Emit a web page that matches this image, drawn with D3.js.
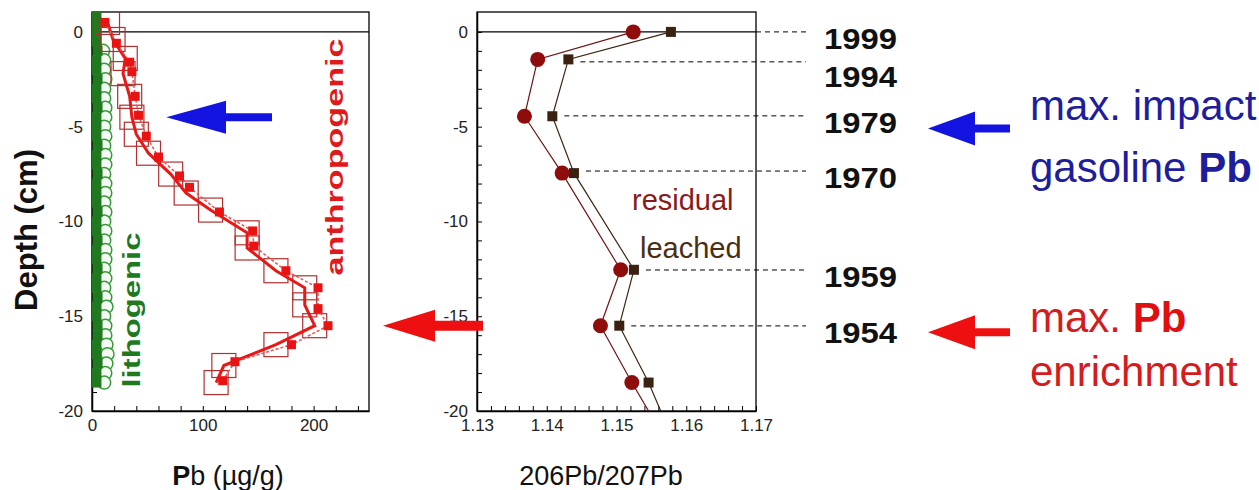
<!DOCTYPE html>
<html>
<head>
  <meta charset="utf-8">
  <style type="text/css">
    body { margin: 0; background: #fff; }
    svg text { font-family: Arial, "Liberation Sans", sans-serif; }
    .tick text { font-size: 17px; fill: #222; }
    .domain { stroke: #000; stroke-width: 1.5px; }
    .tick line { stroke: #000; }
  </style>
  <script src="https://d3js.org/d3.v7.min.js"></script>
</head>
<body>
<div id="chart"></div>
<script type="text/javascript">
  "use strict";

  // lithogenic Pb (ug/g): dark core points and open circles
  var coreDepth = [0.8, 0.5, 0, -0.5, -1, -1.5, -2, -2.5, -3, -3.5, -4, -4.5, -5, -5.5, -6, -6.5, -7, -7.5, -8, -8.5, -9, -9.5, -10, -10.5, -11, -11.5, -12, -12.5, -13, -13.5, -14, -14.5, -15, -15.5, -16, -16.5, -17, -17.5, -18, -18.5];
  var corePb = [4, 4, 4, 4, 5, 4, 4, 5, 4, 4, 5, 4, 4, 4, 5, 4, 4, 5, 4, 4, 4, 5, 4, 4, 5, 4, 4, 5, 4, 4, 5, 4, 4, 5, 5, 4, 4, 5, 4, 4];
  var ringDepth = [-1, -1.5, -2, -2.5, -3, -3.5, -4, -4.5, -5, -5.5, -6, -6.5, -7, -7.5, -8, -8.5, -9, -9.5, -10, -10.5, -11, -11.5, -12, -12.5, -13, -13.5, -14, -14.5, -15, -15.5, -16, -16.5, -17, -17.5, -18, -18.5];
  var ringPb = [10, 11, 11, 12, 11, 11, 12, 12, 11, 12, 11, 12, 12, 11, 12, 12, 11, 12, 11, 12, 11, 12, 12, 11, 12, 11, 12, 13, 11, 12, 12, 13, 14, 13, 12, 11];

  // total Pb (open squares)
  var totalDepth = [0.5, -0.4, -1.4, -2.2, -3.4, -4.5, -5.4, -6.4, -7.5, -8.5, -9.4, -10.6, -11.4, -12.6, -13.5, -14.4, -15.5, -16.5, -17.6, -18.5];
  var totalPb = [14, 19, 30, 28, 34, 36, 40, 51, 71, 85, 107, 140, 140, 166, 192, 192, 201, 166, 119, 112];

  // anthropogenic Pb (filled squares)
  var anthroDepth = [0.5, -0.6, -1.6, -2.1, -3.4, -4.4, -5.5, -6.6, -7.6, -8.2, -9.5, -10.5, -11.3, -12.6, -13.5, -14.6, -15.5, -16.5, -17.4, -18.4];
  var anthroPb = [11.7, 22, 34, 36, 39, 42, 49, 60, 79, 88, 115, 145, 146, 175, 204, 204, 213, 180, 129, 118];

  // 206Pb/207Pb ratios
  var isoDepth = [0, -1.45, -4.45, -7.45, -12.55, -15.5, -18.5, -21];
  var residual = [1.1524, 1.1387, 1.1368, 1.1422, 1.1506, 1.1477, 1.1522, 1.1562];
  var leached = [1.1578, 1.1431, 1.1408, 1.1439, 1.1525, 1.1504, 1.1546, 1.1575];

  // dated horizons
  var years = ["1999", "1994", "1979", "1970", "1959", "1954"];
  var yearDepth = [0, -1.58, -4.43, -7.34, -12.56, -15.51];

  var svg = d3.select("#chart").append("svg")
      .attr("width", 1259).attr("height", 490);
  svg.append("rect").attr("width", 1259).attr("height", 490).attr("fill", "#fff");

  var y = d3.scaleLinear().domain([-20, 1.05]).range([411, 12]);
  var xPb = d3.scaleLinear().domain([0, 250]).range([92, 369]);
  var xIso = d3.scaleLinear().domain([1.13, 1.17]).range([477, 756]);

  var defs = svg.append("defs");
  defs.append("clipPath").attr("id", "clipL").append("rect")
      .attr("x", 92).attr("y", 12).attr("width", 277).attr("height", 399);
  defs.append("clipPath").attr("id", "clipR").append("rect")
      .attr("x", 477).attr("y", 12).attr("width", 279).attr("height", 399);

  function frame(x) {
    var x0 = x.range()[0], x1 = x.range()[1];
    svg.append("rect").attr("x", x0).attr("y", 12)
        .attr("width", x1 - x0).attr("height", 399)
        .attr("fill", "none").attr("stroke", "#000").attr("stroke-width", 1.3);
    svg.append("line").attr("x1", x0).attr("x2", x1)
        .attr("y1", y(0)).attr("y2", y(0))
        .attr("stroke", "#000").attr("stroke-width", 1.3);
    svg.append("g").attr("transform", "translate(" + x0 + ",0)")
        .call(d3.axisLeft(y).tickValues(d3.range(-20, 1, 1))
          .tickSize(-5).tickSizeOuter(0).tickPadding(9)
          .tickFormat(function(d) { return d % 5 === 0 ? String(d) : ""; }));
  }

  frame(xPb);
  frame(xIso);

  svg.append("g").attr("transform", "translate(0,411)")
      .call(d3.axisBottom(xPb).tickValues(d3.range(0, 251, 20))
        .tickSize(-5).tickSizeOuter(0).tickPadding(8)
        .tickFormat(function(d) { return d % 100 === 0 ? String(d) : ""; }));

  var isoTicks = d3.range(0, 21).map(function(i) { return 1.13 + i * 0.002; });
  svg.append("g").attr("transform", "translate(0,411)")
      .call(d3.axisBottom(xIso).tickValues(isoTicks)
        .tickSize(-5).tickSizeOuter(0).tickPadding(8)
        .tickFormat(function(d, i) { return i % 5 === 0 ? d3.format(".2f")(d) : ""; }));

  // ---- left panel: Pb concentrations
  var left = svg.append("g").attr("clip-path", "url(#clipL)");

  var line = d3.line();

  left.append("path")
      .attr("d", line(ringDepth.map(function(d, i) { return [xPb(ringPb[i]), y(d)]; })))
      .attr("fill", "none").attr("stroke", "#2c8a2c").attr("stroke-width", 1.2);
  left.selectAll(".ring").data(ringDepth).enter().append("circle")
      .attr("cx", function(d, i) { return xPb(ringPb[i]); })
      .attr("cy", function(d) { return y(d); })
      .attr("r", 6.5)
      .attr("fill", "#f4fbf4").attr("stroke", "#3a9a3a").attr("stroke-width", 1.5);
  left.append("path")
      .attr("d", line(coreDepth.map(function(d, i) { return [xPb(corePb[i]), y(d)]; })))
      .attr("fill", "none").attr("stroke", "#1d6e1d").attr("stroke-width", 1.5);
  left.selectAll(".core").data(coreDepth).enter().append("rect")
      .attr("x", function(d, i) { return xPb(corePb[i]) - 5; })
      .attr("y", function(d) { return y(d) - 5; })
      .attr("width", 10).attr("height", 10)
      .attr("fill", "#1f7a1f");

  left.selectAll(".tot").data(totalDepth).enter().append("rect")
      .attr("x", function(d, i) { return xPb(totalPb[i]) - 12; })
      .attr("y", function(d) { return y(d) - 12; })
      .attr("width", 24).attr("height", 24)
      .attr("fill", "none").attr("stroke", "#b03030").attr("stroke-width", 1.2);
  left.append("path")
      .attr("d", line(totalDepth.map(function(d, i) { return [xPb(totalPb[i]), y(d)]; })))
      .attr("fill", "none").attr("stroke", "#e81818").attr("stroke-width", 3);
  left.append("path")
      .attr("d", line(anthroDepth.map(function(d, i) { return [xPb(anthroPb[i]), y(d)]; })))
      .attr("fill", "none").attr("stroke", "#f05050").attr("stroke-width", 1.5)
      .attr("stroke-dasharray", "3,2");
  left.selectAll(".anth").data(anthroDepth).enter().append("rect")
      .attr("x", function(d, i) { return xPb(anthroPb[i]) - 4.5; })
      .attr("y", function(d) { return y(d) - 4.5; })
      .attr("width", 9).attr("height", 9)
      .attr("fill", "#e81414");

  svg.append("text")
      .attr("transform", "translate(140," + 310 + ") rotate(-90)")
      .attr("text-anchor", "middle")
      .attr("textLength", 155).attr("lengthAdjust", "spacingAndGlyphs")
      .style("font-size", "24px").style("font-weight", "bold").style("fill", "#1f7a1f")
      .text("lithogenic");
  svg.append("text")
      .attr("transform", "translate(343," + 157 + ") rotate(-90)")
      .attr("text-anchor", "middle")
      .attr("textLength", 237).attr("lengthAdjust", "spacingAndGlyphs")
      .style("font-size", "24px").style("font-weight", "bold").style("fill", "#e01a1a")
      .text("anthropogenic");

  // ---- right panel: isotope ratios
  var right = svg.append("g").attr("clip-path", "url(#clipR)");

  right.append("path")
      .attr("d", line(isoDepth.map(function(d, i) { return [xIso(leached[i]), y(d)]; })))
      .attr("fill", "none").attr("stroke", "#3d2612").attr("stroke-width", 1.2);
  right.append("path")
      .attr("d", line(isoDepth.map(function(d, i) { return [xIso(residual[i]), y(d)]; })))
      .attr("fill", "none").attr("stroke", "#6e1414").attr("stroke-width", 1.2);
  right.selectAll(".lea").data(isoDepth).enter().append("rect")
      .attr("x", function(d, i) { return xIso(leached[i]) - 5; })
      .attr("y", function(d) { return y(d) - 5; })
      .attr("width", 10).attr("height", 10)
      .attr("fill", "#3b2210");
  right.selectAll(".res").data(isoDepth).enter().append("circle")
      .attr("cx", function(d, i) { return xIso(residual[i]); })
      .attr("cy", function(d) { return y(d); })
      .attr("r", 7.5)
      .attr("fill", "#8e0c0c");

  svg.append("text").attr("x", 632).attr("y", 210)
      .style("font-size", "29px").style("fill", "#8a1a1a").text("residual");
  svg.append("text").attr("x", 640).attr("y", 258)
      .style("font-size", "29px").style("fill", "#4a2e14").text("leached");

  // dated horizons
  yearDepth.forEach(function(d, i) {
    var x0 = i === 0 ? xIso.range()[1] : xIso(leached[i]) + 12;
    svg.append("line").attr("x1", x0).attr("x2", 806)
        .attr("y1", y(d)).attr("y2", y(d))
        .attr("stroke", "#000").attr("stroke-width", 1)
        .attr("stroke-dasharray", "5,4");
    var dy = i === 1 ? 25 : 17;
    svg.append("text").attr("x", 824).attr("y", y(d) + dy)
        .attr("textLength", 73).attr("lengthAdjust", "spacingAndGlyphs")
        .style("font-size", "29px").style("font-weight", "bold").style("fill", "#111")
        .text(years[i]);
  });

  // ---- arrows
  function arrow(tipX, tipY, headX, endX, headH, shaftH, color) {
    var p = d3.path();
    p.moveTo(tipX, tipY);
    p.lineTo(headX, tipY - headH);
    p.lineTo(headX, tipY - shaftH);
    p.lineTo(endX, tipY - shaftH);
    p.lineTo(endX, tipY + shaftH);
    p.lineTo(headX, tipY + shaftH);
    p.lineTo(headX, tipY + headH);
    p.closePath();
    svg.append("path").attr("d", p.toString()).attr("fill", color);
  }
  arrow(xPb(67), y(-4.5), 226, 272, 16.5, 4, "#1414e0");
  arrow(383, y(-15.5), 435, 483, 16, 5, "#ee1010");
  arrow(928, y(-5.1), 975, 1010, 17, 4, "#1414e0");
  arrow(928, y(-15.85), 975, 1010, 17, 4, "#ee1010");

  var blue = svg.append("text").attr("x", 1030).attr("y", 120)
      .style("font-size", "42px").style("fill", "#1e1e9c");
  blue.append("tspan").text("max. impact");
  var blue2 = svg.append("text").attr("x", 1030).attr("y", 182)
      .style("font-size", "42px").style("fill", "#1e1e9c");
  blue2.append("tspan").text("gasoline ");
  blue2.append("tspan").style("font-weight", "bold").text("Pb");

  var red = svg.append("text").attr("x", 1030).attr("y", 332)
      .style("font-size", "42px").style("fill", "#d41c1c");
  red.append("tspan").text("max. ");
  red.append("tspan").style("font-weight", "bold").style("fill", "#e01010").text("Pb");
  svg.append("text").attr("x", 1030).attr("y", 386)
      .style("font-size", "42px").style("fill", "#d41c1c").text("enrichment");

  // ---- axis titles
  svg.append("text")
      .attr("transform", "translate(37,230) rotate(-90)")
      .attr("text-anchor", "middle")
      .style("font-size", "31px").style("font-weight", "bold").style("fill", "#111")
      .text("Depth (cm)");
  var pbTitle = svg.append("text").attr("x", 228).attr("y", 485)
      .attr("text-anchor", "middle")
      .style("font-size", "27px").style("fill", "#111");
  pbTitle.append("tspan").style("font-weight", "bold").text("P");
  pbTitle.append("tspan").text("b (\u00b5g/g)");
  svg.append("text").attr("x", 601).attr("y", 485)
      .attr("text-anchor", "middle")
      .style("font-size", "27px").style("fill", "#111")
      .text("206Pb/207Pb");
</script>
</body>
</html>
